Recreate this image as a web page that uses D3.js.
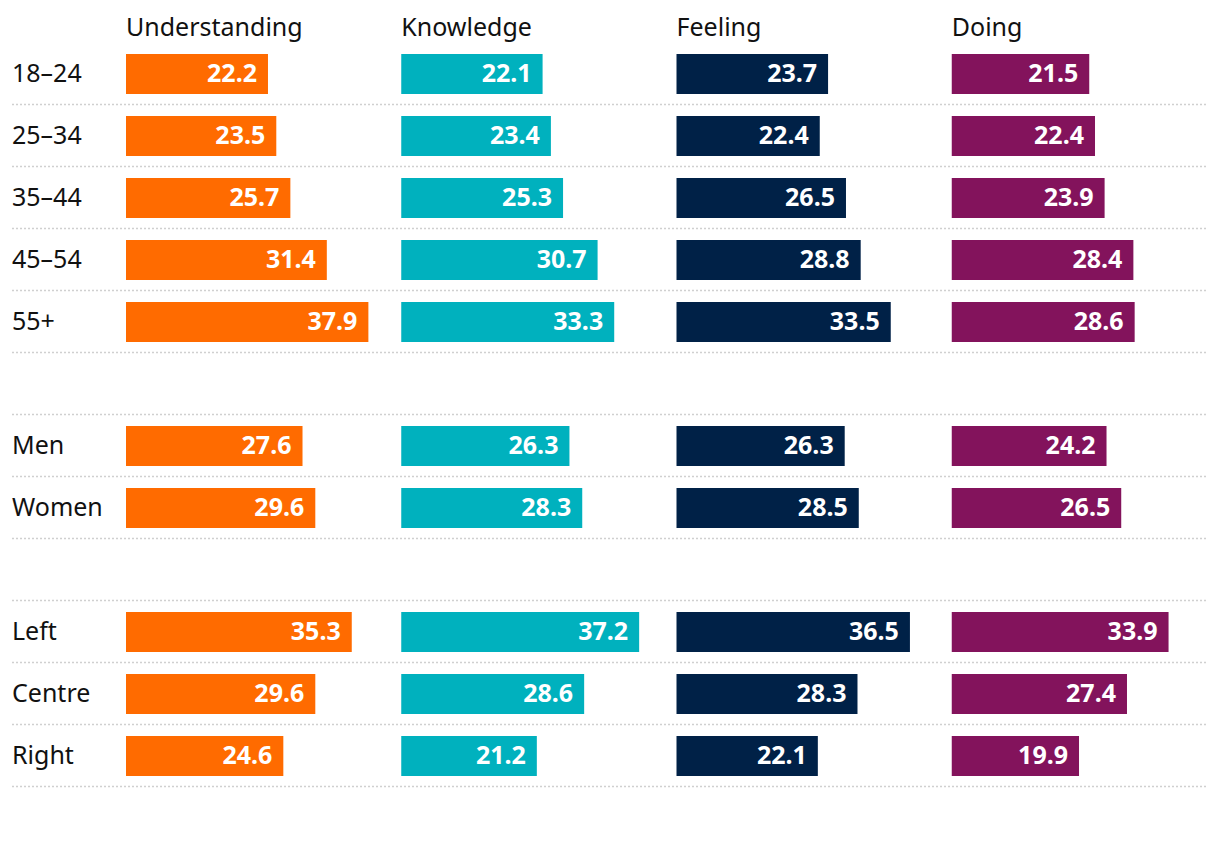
<!DOCTYPE html>
<meta charset="utf-8">
<html>
<head>
    <script src="https://cdn.jsdelivr.net/npm/d3@7"></script>
    <style>
        body { margin: 0; background: #fff; }
        text { font-family: "Noto Sans", sans-serif; }
    </style>
</head>
<body>
    <script>
    // row labels, "" = blank spacer row
    var groups = ["18\u201324", "25\u201334", "35\u201344", "45\u201354", "55+", "",
                  "Men", "Women", "",
                  "Left", "Centre", "Right"];
    var measures = ["Understanding", "Knowledge", "Feeling", "Doing"];
    var colours = ["#ff6b00", "#00b1be", "#002147", "#83135c"];

    var understanding = [22.2, 23.5, 25.7, 31.4, 37.9, null, 27.6, 29.6, null, 35.3, 29.6, 24.6];
    var knowledge     = [22.1, 23.4, 25.3, 30.7, 33.3, null, 26.3, 28.3, null, 37.2, 28.6, 21.2];
    var feeling       = [23.7, 22.4, 26.5, 28.8, 33.5, null, 26.3, 28.5, null, 36.5, 28.3, 22.1];
    var doing         = [21.5, 22.4, 23.9, 28.4, 28.6, null, 24.2, 26.5, null, 33.9, 27.4, 19.9];

    var series = [understanding, knowledge, feeling, doing];

    var width = 1220, height = 848;
    var fontSize = 25;

    var svg = d3.select("body")
        .append("svg")
        .attr("width", width)
        .attr("height", height);

    var colScale = d3.scaleBand()
        .domain(measures)
        .range([126, 1227]);

    var xScale = d3.scaleLinear()
        .domain([0, 43])
        .range([0, 275]);

    var yScale = d3.scaleBand()
        .domain(d3.range(groups.length))
        .range([42, 42 + 62 * groups.length]);

    var barH = 40;

    // dotted separators below each row
    svg.selectAll("line.sep")
        .data(d3.range(groups.length))
        .enter()
        .append("line")
        .attr("class", "sep")
        .attr("x1", 12)
        .attr("x2", 1208)
        .attr("y1", function(i) { return yScale(i) + yScale.step() + 0.5; })
        .attr("y2", function(i) { return yScale(i) + yScale.step() + 0.5; })
        .attr("stroke", "#d0d0d0")
        .attr("stroke-width", 1.5)
        .attr("stroke-dasharray", "2,2");

    // column headers
    svg.selectAll("text.head")
        .data(measures)
        .enter()
        .append("text")
        .attr("class", "head")
        .attr("x", function(d) { return colScale(d); })
        .attr("y", 36)
        .attr("font-size", fontSize)
        .attr("fill", "#111")
        .text(function(d) { return d; });

    // row labels
    svg.selectAll("text.row")
        .data(groups)
        .enter()
        .append("text")
        .attr("class", "row")
        .attr("x", 12)
        .attr("y", function(d, i) { return yScale(i) + 12 + barH / 2; })
        .attr("dy", "0.33em")
        .attr("font-size", fontSize)
        .attr("fill", "#111")
        .text(function(d) { return d; });

    series.forEach(function(vals, k) {
        var m = measures[k];
        var g = svg.append("g")
            .attr("transform", "translate(" + colScale(m) + ",0)");
        var rows = vals.map(function(v, i) { return { v: v, i: i }; })
            .filter(function(d) { return d.v !== null; });

        g.selectAll("rect")
            .data(rows)
            .enter()
            .append("rect")
            .attr("x", 0)
            .attr("y", function(d) { return yScale(d.i) + 12; })
            .attr("width", function(d) { return xScale(d.v); })
            .attr("height", barH)
            .attr("fill", colours[k]);

        g.selectAll("text")
            .data(rows)
            .enter()
            .append("text")
            .attr("x", function(d) { return xScale(d.v) - 11; })
            .attr("y", function(d) { return yScale(d.i) + 12 + barH / 2; })
            .attr("dy", "0.33em")
            .attr("text-anchor", "end")
            .attr("font-size", fontSize)
            .attr("font-weight", "bold")
            .attr("fill", "#fff")
            .text(function(d) { return d.v.toFixed(1); });
    });
    </script>
</body>
</html>
